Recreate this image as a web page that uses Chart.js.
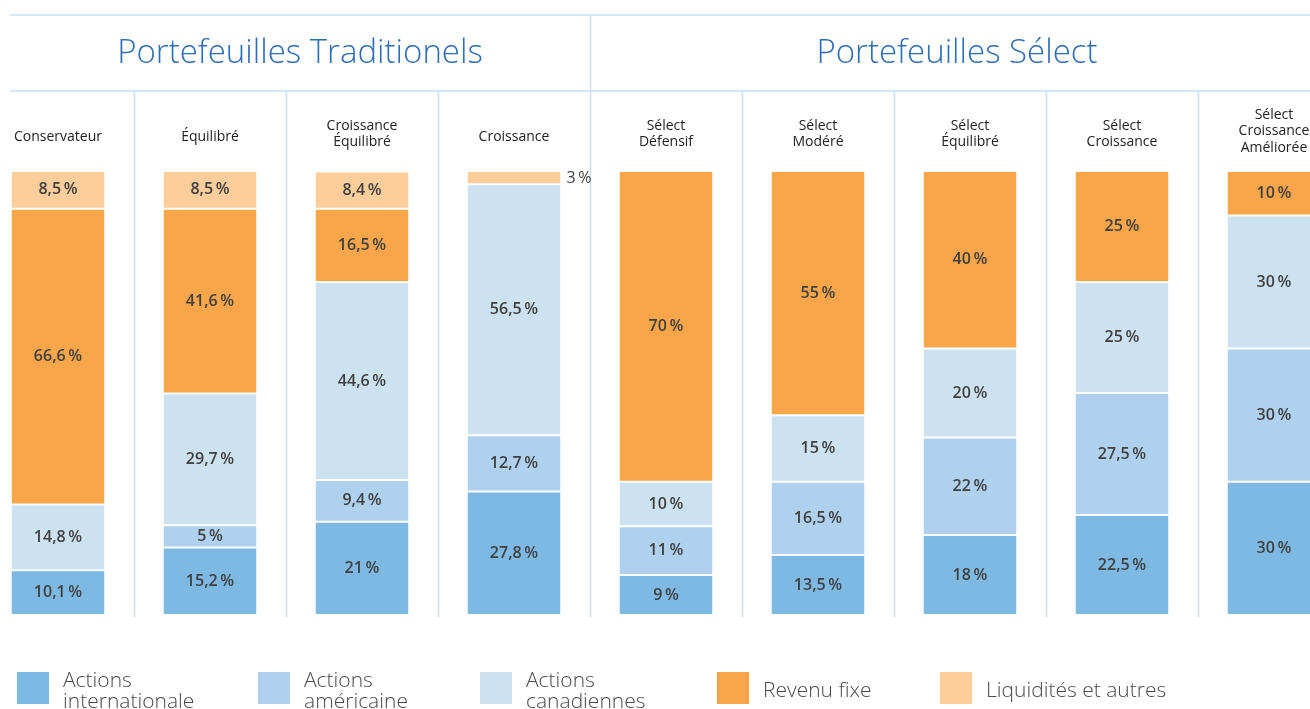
<!DOCTYPE html>
<html>
<head>
<meta charset="utf-8">
<script src="https://cdn.jsdelivr.net/npm/chart.js@4/dist/chart.umd.min.js"></script>
<style>
  html, body { margin: 0; padding: 0; background: #fff; overflow: hidden; width: 1310px; height: 709px; }
  #wrap { position: relative; width: 1310px; height: 709px; overflow: hidden; }
  #chart { position: absolute; left: -18px; top: 0; }
  .title { position: absolute; top: 28px; font-family: "Open Sans", sans-serif; font-weight: 300; font-size: 33px; color: #2f6db5; white-space: nowrap; transform: translateX(-50%); }
  .legend { position: absolute; top: 671px; font-family: "Open Sans", sans-serif; font-weight: 300; font-size: 21px; color: #4a4a4a; line-height: 21px; }
  .legend .sw { position: absolute; left: 0; top: 1px; width: 32px; height: 32px; }
  .legend .lb { position: absolute; left: 46px; top: -2px; white-space: nowrap; }
  .legend .lb.one { top: 8px; }
</style>
</head>
<body>
<div id="wrap">
  <canvas id="chart" width="1368" height="709"></canvas>
  <div class="title" style="left:300px">Portefeuilles Traditionels</div>
  <div class="title" style="left:957px">Portefeuilles Sélect</div>
  <div id="legend"></div>
</div>
<script>
// categories, one array of lines per column
let categories = [
  ["Conservateur"],
  ["Équilibré"],
  ["Croissance", "Équilibré"],
  ["Croissance"],
  ["Sélect", "Défensif"],
  ["Sélect", "Modéré"],
  ["Sélect", "Équilibré"],
  ["Sélect", "Croissance"],
  ["Sélect", "Croissance", "Améliorée"]
];

// series values (%), bottom to top
let actions_internationales = [10.1, 15.2, 21, 27.8, 9, 13.5, 18, 22.5, 30];
let actions_americaines = [null, 5, 9.4, 12.7, 11, 16.5, 22, 27.5, 30];
let actions_canadiennes = [14.8, 29.7, 44.6, 56.5, 10, 15, 20, 25, 30];
let revenu_fixe = [66.6, 41.6, 16.5, null, 70, 55, 40, 25, 10];
let liquidites = [8.5, 8.5, 8.4, 3, null, null, null, null, null];

let series_labels = [
  ["Actions", "internationale"],
  ["Actions", "américaine"],
  ["Actions", "canadiennes"],
  ["Revenu fixe"],
  ["Liquidités et autres"]
];
let series_colors = ['#7db9e3', '#afd1ee', '#cde2f1', '#f9a64a', '#fdce9b'];
let legend_x = [17, 258, 480, 717, 940];

// build the legend
let legendDiv = document.getElementById('legend');
series_labels.forEach((lines, i) => {
  let item = document.createElement('div');
  item.className = 'legend';
  item.style.left = legend_x[i] + 'px';
  item.innerHTML = `<div class="sw" style="background:${series_colors[i]}"></div>
    <div class="lb ${lines.length === 1 ? 'one' : ''}">${lines.join('<br>')}</div>`;
  legendDiv.appendChild(item);
});

function fmt(v) {
  return String(v).replace('.', ',') + '\u2009%';
}

const lineColor = '#c9e0f2';
const labelFont = '600 16px "Open Sans", sans-serif';

// draws header lines, column dividers, column names and value labels
const decorations = {
  id: 'decorations',
  beforeDatasetsDraw(chart) {
    const ctx = chart.ctx;
    const x = chart.scales.x;
    ctx.save();
    ctx.strokeStyle = lineColor;
    ctx.lineWidth = 1.5;
    // horizontal rules
    [15, 91].forEach(y => {
      ctx.beginPath();
      ctx.moveTo(28, y);
      ctx.lineTo(chart.width, y);
      ctx.stroke();
    });
    // column dividers
    for (let i = 0; i < categories.length - 1; i++) {
      const px = Math.round((x.getPixelForValue(i) + x.getPixelForValue(i + 1)) / 2) + 0.5;
      ctx.beginPath();
      ctx.moveTo(px, i === 3 ? 15 : 91);
      ctx.lineTo(px, 617);
      ctx.stroke();
    }
    // column names
    ctx.fillStyle = '#222';
    ctx.font = '14px "Open Sans", sans-serif';
    ctx.textAlign = 'center';
    ctx.textBaseline = 'middle';
    categories.forEach((lines, i) => {
      const cx = x.getPixelForValue(i);
      const y0 = 137 - (lines.length - 1) * 11;
      lines.forEach((t, j) => ctx.fillText(t, cx, y0 + j * 16.5));
    });
    ctx.restore();
  },
  afterDatasetsDraw(chart) {
    const ctx = chart.ctx;
    ctx.save();
    ctx.fillStyle = '#404040';
    ctx.textBaseline = 'middle';
    chart.data.datasets.forEach((ds, di) => {
      const meta = chart.getDatasetMeta(di);
      meta.data.forEach((bar, i) => {
        const v = ds.data[i];
        if (v === null || v === undefined) return;
        const h = Math.abs(bar.base - bar.y);
        const cy = (bar.y + bar.base) / 2;
        if (h < 18) {
          ctx.textAlign = 'left';
          ctx.font = '16px "Open Sans", sans-serif';
          ctx.fillText(fmt(v), bar.x + bar.width / 2 + 6, cy + 1);
        } else {
          ctx.textAlign = 'center';
          ctx.font = labelFont;
          ctx.fillText(fmt(v), bar.x, cy);
        }
      });
    });
    ctx.restore();
  }
};

const all_series = [actions_internationales, actions_americaines, actions_canadiennes, revenu_fixe, liquidites];

new Chart(document.getElementById('chart'), {
  type: 'bar',
  data: {
    labels: categories.map(c => c.join(' ')),
    datasets: all_series.map((values, i) => ({
      label: series_labels[i].join(' '),
      data: values,
      backgroundColor: series_colors[i],
      borderColor: '#ffffff',
      borderWidth: { top: 1, bottom: 1, left: 0, right: 0 },
      borderSkipped: false,
      categoryPercentage: 93 / 152,
      barPercentage: 1
    }))
  },
  options: {
    responsive: false,
    animation: false,
    layout: { padding: { top: 171, bottom: 94, left: 0, right: 0 } },
    plugins: { legend: { display: false }, tooltip: { enabled: false } },
    scales: {
      x: { stacked: true, display: false },
      y: { stacked: true, display: false, min: 0, max: 100 }
    }
  },
  plugins: [decorations]
});
</script>
</body>
</html>
